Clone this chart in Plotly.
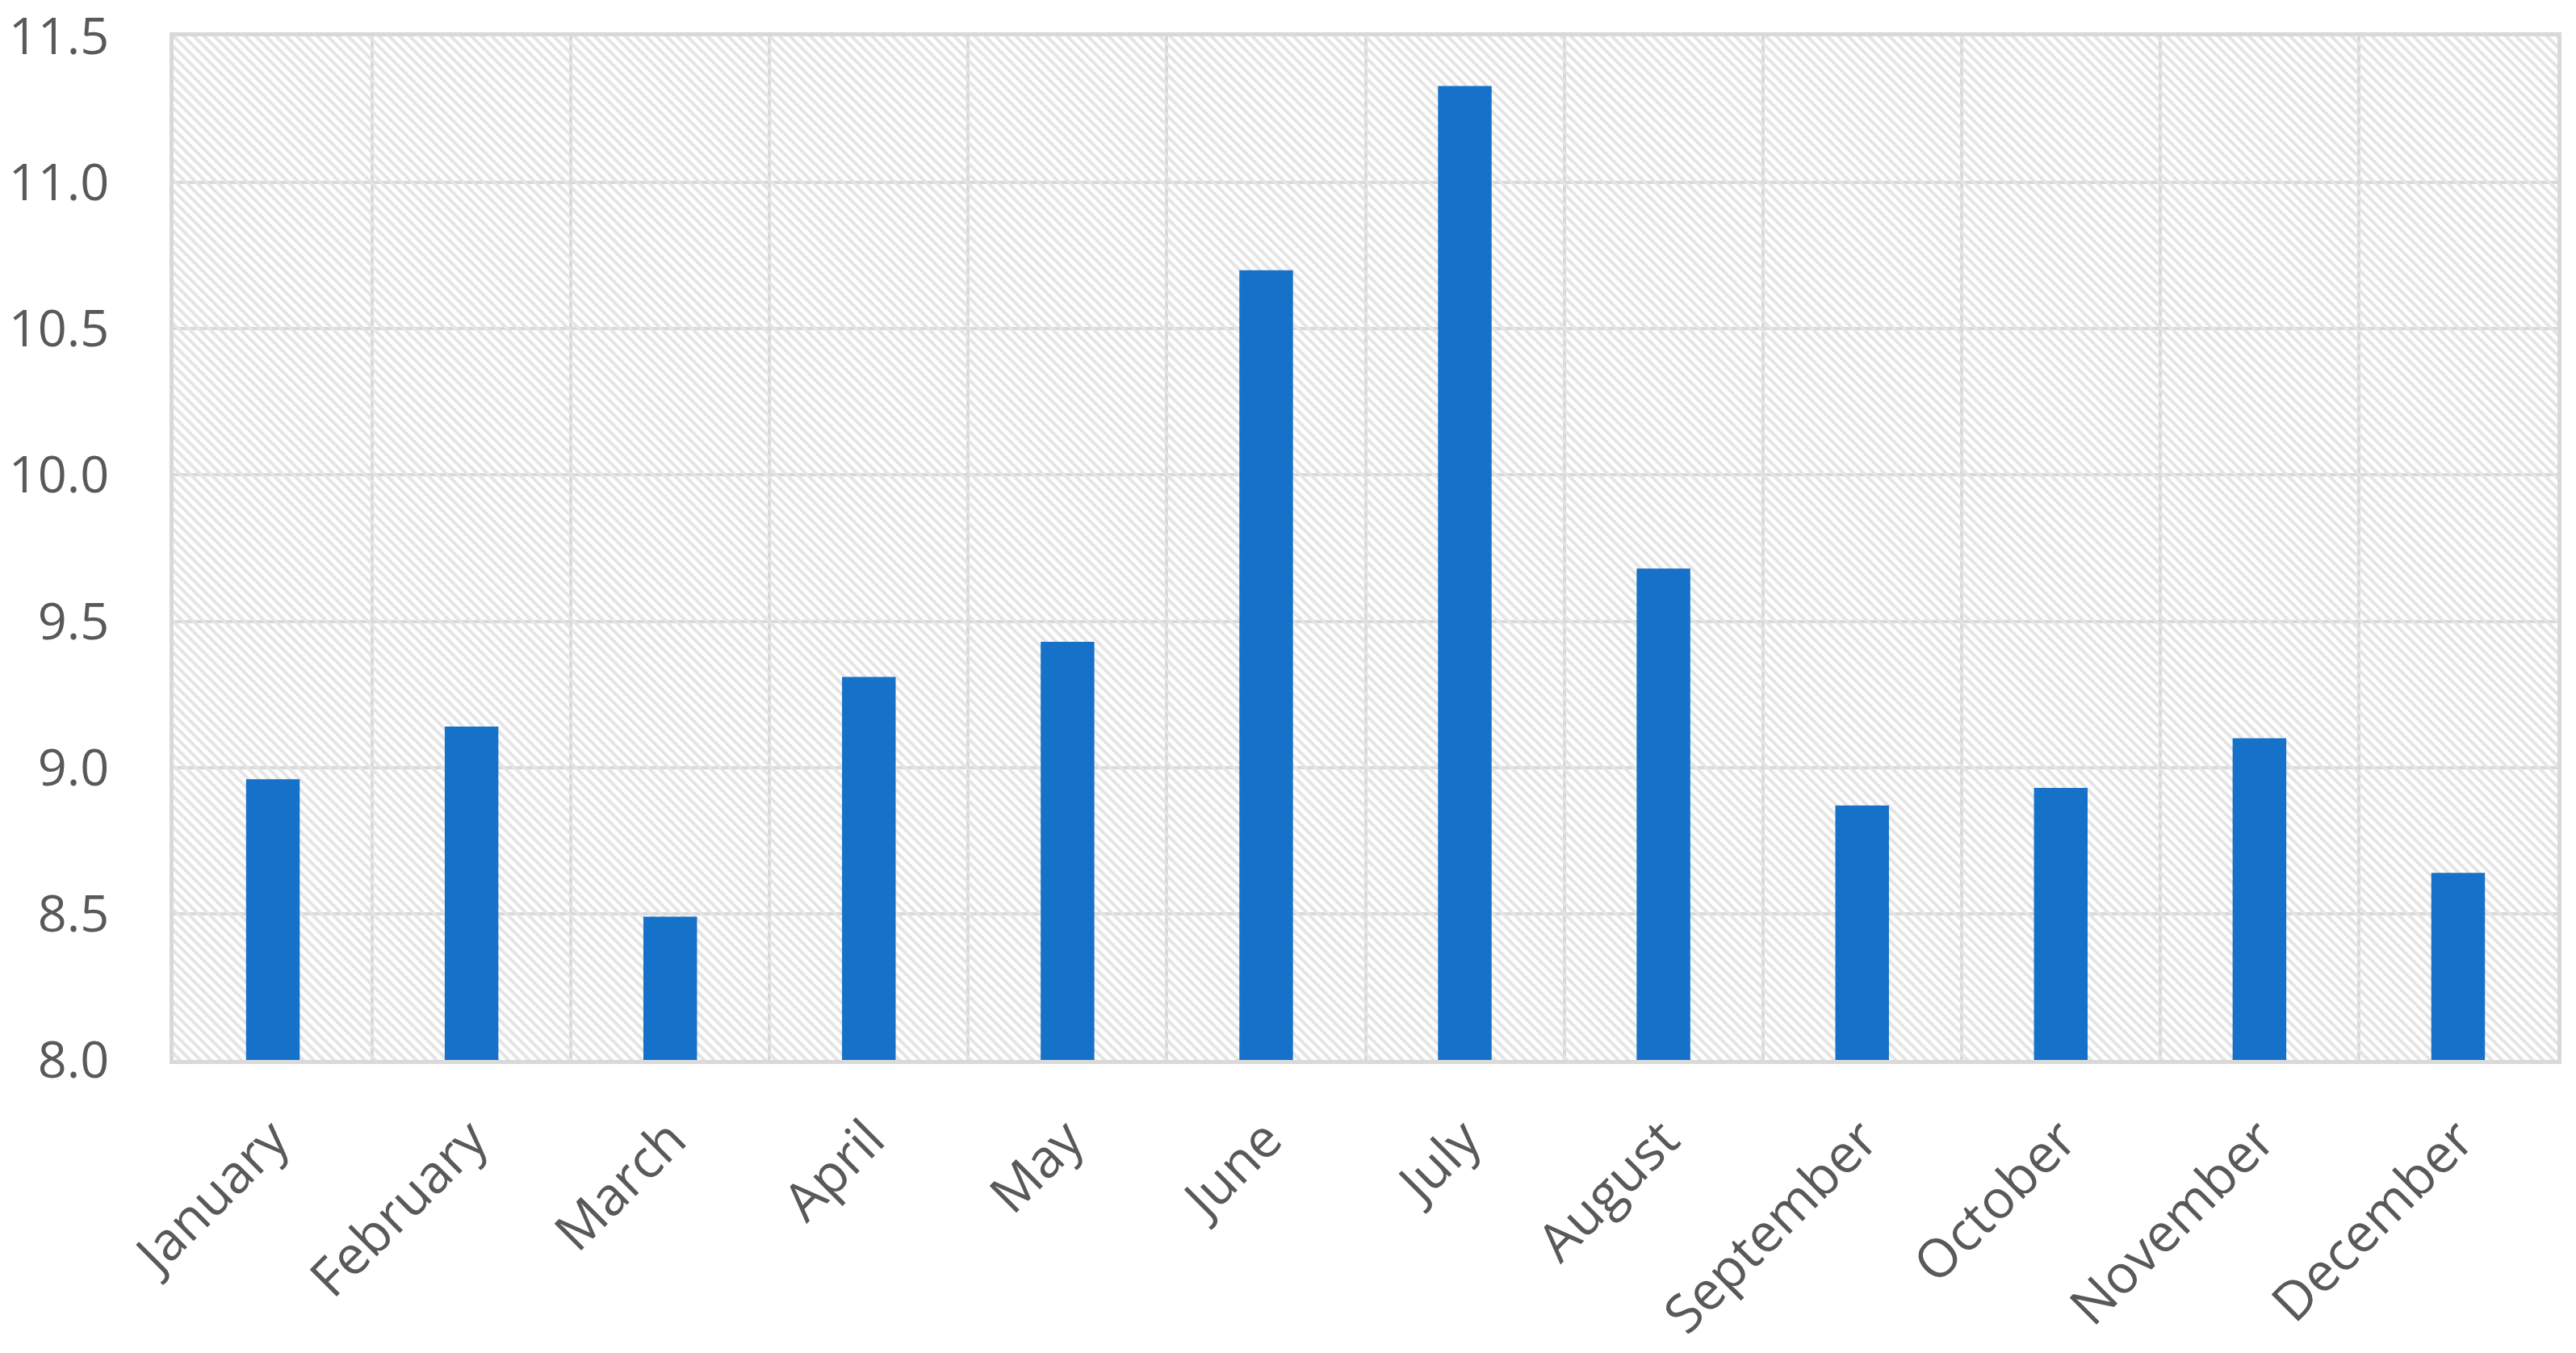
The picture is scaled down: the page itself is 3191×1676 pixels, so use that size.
import plotly.graph_objects as go

# monthly values
months = ["January", "February", "March", "April", "May", "June",
          "July", "August", "September", "October", "November", "December"]
values = [8.96, 9.14, 8.49, 9.31, 9.43, 10.70, 11.33, 9.68, 8.87, 8.93, 9.10, 8.64]

y_min, y_max = 8.0, 11.5
grid = "#d9d9d9"

fig = go.Figure()

# hatched plot background, one cell per category
fig.add_trace(go.Bar(
    x=months,
    y=[y_max - y_min] * len(months),
    base=y_min,
    width=1,
    marker=dict(
        color="rgba(0,0,0,0)",
        line=dict(width=0),
        pattern=dict(shape="\\", size=9, solidity=0.45,
                     fgcolor="#e4e4e4", bgcolor="rgba(0,0,0,0)",
                     fillmode="replace"),
    ),
    hoverinfo="skip",
    showlegend=False,
))

fig.add_trace(go.Bar(
    x=months,
    y=[v - y_min for v in values],
    base=y_min,
    width=0.27,
    marker=dict(color="#1672c9", line=dict(width=0)),
    customdata=values,
    hovertemplate="%{x}: %{customdata}<extra></extra>",
    showlegend=False,
))

# margins allow for the 8px default body margin of the html page
fig.update_layout(
    width=3191,
    height=1676,
    margin=dict(l=207, r=31, t=37, b=371),
    barmode="overlay",
    paper_bgcolor="white",
    plot_bgcolor="white",
    font=dict(family="Open Sans, Segoe UI, sans-serif", size=63, color="#595959"),
)

fig.update_xaxes(
    type="category",
    tickson="boundaries",
    ticks="",
    tickangle=-45,
    tickfont=dict(size=66),
    ticklabelstandoff=28,
    showgrid=True,
    gridcolor=grid,
    gridwidth=4,
    showline=True,
    linecolor=grid,
    linewidth=5,
    mirror=True,
    automargin=False,
)

fig.update_yaxes(
    range=[y_min, y_max],
    dtick=0.5,
    tickformat=".1f",
    showgrid=True,
    gridcolor=grid,
    gridwidth=4,
    zeroline=False,
    showline=True,
    linecolor=grid,
    linewidth=5,
    mirror=True,
    ticks="",
    ticklabelstandoff=62,
    ticklabeloverflow="allow",
    automargin=False,
)

fig.write_html("out.html")
